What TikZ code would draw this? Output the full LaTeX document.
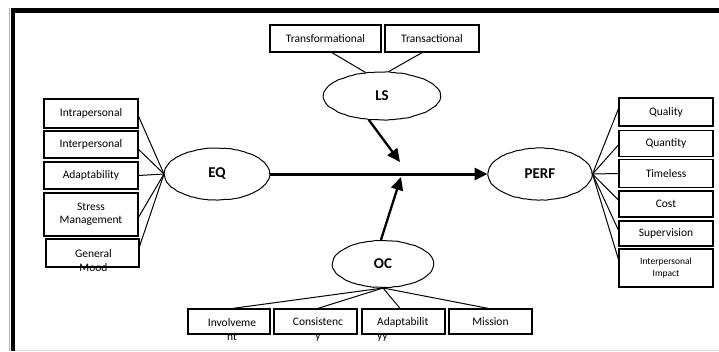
\documentclass[tikz,border=0pt]{standalone}
\usepackage{fontspec}
\setmainfont{Carlito}
\usetikzlibrary{shapes.geometric,arrows.meta,calc,decorations.pathmorphing}
\begin{document}
\pgfmathsetseed{7}
\begin{tikzpicture}[x=1pt,y=-1pt,
  box/.style={draw, line width=1.3pt, inner sep=0pt, font=\fontsize{11.5}{13.5}\selectfont, align=center},
  lat/.style={draw, ellipse, line width=1pt, inner sep=0pt, font=\fontsize{15}{18}\selectfont\bfseries,
    decorate, decoration={random steps, segment length=2.5pt, amplitude=0.35pt}, rounded corners=0.8pt},
  link/.style={line width=1pt},
  bigarrow/.style={line width=3pt, -{Triangle[length=13pt,width=12pt]}},
  midarrow/.style={line width=2.3pt, -{Triangle[length=13pt,width=12pt]}},
  txt/.style={inner sep=0pt, font=\fontsize{11.5}{14}\selectfont, align=center}
]
\useasboundingbox (0,0) rectangle (719,351);
% frame
\draw[gray!60, line width=0.8pt] (9.5,8) -- (9.5,351);
\draw[line width=5pt] (10.5,10.5) -- (719,10.5);
\draw[line width=4pt] (12.5,8) -- (12.5,351);
\draw[gray!30, line width=1pt] (14.5,350) -- (719,350);

% latent variables
\node[lat, minimum width=117pt, minimum height=48pt] (LS) at (382,96) {LS};
\node[lat, minimum width=105pt, minimum height=52pt] (EQ) at (217,174) {EQ};
\node[lat, minimum width=104pt, minimum height=52pt] (PERF) at (540,174) {PERF};
\node[lat, minimum width=101pt, minimum height=47pt] (OC) at (383,264) {OC};

% top boxes
\node[box, minimum width=111pt, minimum height=27pt] (tf) at (325.5,38.5) {Transformational};
\node[box, minimum width=94pt, minimum height=27pt] (ta) at (432,38.5) {Transactional};

% left boxes
\node[box, minimum width=94pt, minimum height=29pt] (intra) at (91,113.5) {Intrapersonal};
\node[box, minimum width=94pt, minimum height=27pt] (inter) at (91,144.5) {Interpersonal};
\node[box, minimum width=94pt, minimum height=27pt] (adapt) at (91,175.5) {Adaptability};
\node[box, minimum width=94pt, minimum height=43pt] (stress) at (91,214.5) {Stress\\Management};
\node[box, minimum width=93pt, minimum height=28pt] (gm) at (92.5,253) {};
\node[txt] (gmt) at (93.5,261) {General\\Mood};

% right boxes
\node[box, minimum width=94pt, minimum height=28pt] (quality) at (666,112) {Quality};
\node[box, minimum width=94pt, minimum height=26pt] (quantity) at (666,143.5) {Quantity};
\node[box, minimum width=94pt, minimum height=28pt] (timeless) at (666,173.5) {Timeless};
\node[box, minimum width=94pt, minimum height=26pt] (cost) at (666,204) {Cost};
\node[box, minimum width=94pt, minimum height=25pt] (sup) at (666,233.5) {Supervision};
\node[box, minimum width=94pt, minimum height=38pt, font=\fontsize{9.5}{12}\selectfont] (ii) at (666,268) {Interpersonal\\Impact};

% bottom boxes
\node[box, minimum width=82pt, minimum height=25pt] (inv) at (229,321.5) {};
\node[txt] (invt) at (232,329.5) {Involveme\\nt};
\node[box, minimum width=83pt, minimum height=25pt] (con) at (315.5,321.5) {};
\node[txt] (cont) at (318,329.5) {Consistenc\\y};
\node[box, minimum width=83pt, minimum height=25pt] (adp) at (403.5,321.5) {};
\node[txt, align=left, anchor=west] (adpt) at (377,329.5) {Adaptabilit\\yy};
\node[box, minimum width=83pt, minimum height=25pt] (mis) at (490.5,321.5) {Mission};

% indicator links
\draw[link] ($(tf.south)+(6.5,0)$) -- (LS.125);
\draw[link] ($(ta.south)+(-10,0)$) -- (LS.75);

\draw[link] ($(intra.east)+(0,3)$) -- (EQ.west);
\draw[link] ($(inter.east)+(0,5)$) -- (EQ.west);
\draw[link] (adapt.east) -- (EQ.west);
\draw[link] ($(stress.east)+(0,2.5)$) -- (EQ.west);
\draw[link] ($(gm.east)+(0,-7)$) -- (EQ.west);

\draw[link] (PERF.east) -- ($(quality.west)+(0,-3)$);
\draw[link] (PERF.east) -- ($(quantity.west)+(0,1.5)$);
\draw[link] (PERF.east) -- (timeless.west);
\draw[link] (PERF.east) -- ($(cost.west)+(0,-4)$);
\draw[link] (PERF.east) -- ($(sup.west)+(0,-3.5)$);
\draw[link] (PERF.east) -- ($(ii.west)+(0,-9)$);

\draw[link] (OC.south) -- ($(inv.north)+(4,0)$);
\draw[link] (OC.south) -- ($(con.north)+(2.5,0)$);
\draw[link] (OC.south) -- ($(adp.north)+(-3.5,0)$);
\draw[link] (OC.south) -- ($(mis.north)+(-2.5,0)$);

% structural arrows
\coordinate (lstip) at (400,162);
\coordinate (octip) at (401,177);
\draw[midarrow] (LS.-119) -- (lstip);
\draw[midarrow] (OC.95) -- (octip);
\draw[bigarrow] (EQ.east) -- (PERF.west);
\end{tikzpicture}
\end{document}
